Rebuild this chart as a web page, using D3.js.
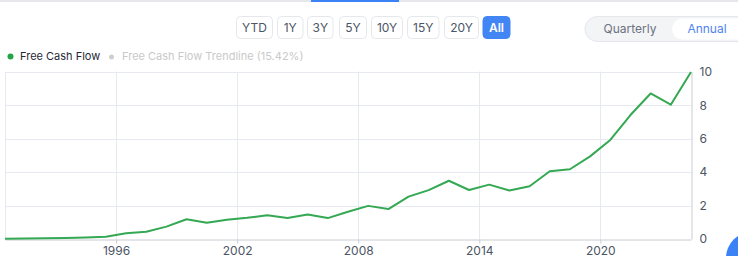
<!DOCTYPE html>
<html><head><meta charset="utf-8">
<script src="https://cdn.jsdelivr.net/npm/d3@7"></script>
<style>
html,body{margin:0;padding:0;background:#fff;overflow:hidden}
svg{display:block;font-family:Inter,"Noto Sans",sans-serif}
</style></head>
<body><svg id="c" width="738" height="256"></svg>
<script>
const years = [1990,1991,1992,1993,1994,1995,1996,1997,1998,1999,2000,2001,2002,2003,2004,2005,2006,2007,2008,2009,2010,2011,2012,2013,2014,2015,2016,2017,2018,2019,2020,2021,2022,2023,2024];
const freeCashFlow = [0.01,0.03,0.05,0.06,0.09,0.14,0.34,0.43,0.74,1.18,0.97,1.15,1.27,1.42,1.25,1.47,1.25,1.63,1.98,1.79,2.53,2.92,3.48,2.93,3.25,2.90,3.15,4.05,4.17,4.94,5.92,7.41,8.70,8.03,9.98];
const yTicks = [0,2,4,6,8,10];
const xTickYears = [1996,2002,2008,2014,2020];
const rangeButtons = ["YTD","1Y","3Y","5Y","10Y","15Y","20Y","All"];
const legendItems = ["Free Cash Flow","Free Cash Flow Trendline (15.42%)"];
const periodOptions = ["Quarterly","Annual"];

const svg = d3.select("#c");
const dates = years.map(y => new Date(y, 5, 30));
const x = d3.scaleTime().domain([dates[0], dates[dates.length-1]]).range([5, 691]);
const y = d3.scaleLinear().domain([0,10]).range([239, 71.7]);

// top progress bar
svg.append("rect").attr("x",0).attr("y",0).attr("width",738).attr("height",2).attr("fill","#e5e7eb");
svg.append("rect").attr("x",311).attr("y",0).attr("width",88).attr("height",2).attr("fill","#3b82f6");

// range buttons
const btnX = [236.5,277.5,307.5,339.5,371.5,407.5,444.5,483];
const btnW = [36,25.5,25.5,27,31,31.5,34,27];
rangeButtons.forEach((t,i)=>{
  const g = svg.append("g");
  const active = t==="All";
  g.append("rect").attr("x",btnX[i]).attr("y",16.5).attr("width",btnW[i]).attr("height",22).attr("rx",4)
    .attr("fill",active?"#4285f4":"#fff").attr("stroke",active?"#4285f4":"#e5e7eb");
  g.append("text").attr("x",btnX[i]+btnW[i]/2).attr("y",32).attr("text-anchor","middle")
    .attr("font-size",12).attr("fill",active?"#fff":"#4b5563").attr("font-weight",active?600:400).text(t);
});

// period toggle
svg.append("rect").attr("x",585).attr("y",16.5).attr("width",170).attr("height",25).attr("rx",12.5)
  .attr("fill","#f3f4f6").attr("stroke","#e5e7eb");
svg.append("rect").attr("x",672).attr("y",18.5).attr("width",90).attr("height",21).attr("rx",10.5).attr("fill","#fff");
svg.append("text").attr("x",630).attr("y",33).attr("text-anchor","middle").attr("font-size",12).attr("fill","#6b7280").text(periodOptions[0]);
svg.append("text").attr("x",707).attr("y",33).attr("text-anchor","middle").attr("font-size",12).attr("fill","#4f83f1").text(periodOptions[1]);

// legend
svg.append("circle").attr("cx",10.5).attr("cy",56.5).attr("r",3).attr("fill","#22a447");
svg.append("text").attr("x",20).attr("y",60).attr("font-size",11).attr("fill","#1f2937").text(legendItems[0]);
svg.append("circle").attr("cx",111.5).attr("cy",57).attr("r",2.5).attr("fill","#cfcfcf");
svg.append("text").attr("x",122).attr("y",60).attr("font-size",11).attr("fill","#c9c9c9").text(legendItems[1]);

// grid
const grid = svg.append("g");
grid.selectAll(".hg").data(yTicks.filter(d=>d>0)).join("line")
  .attr("x1",5).attr("x2",691).attr("y1",d=>Math.round(y(d))+0.5).attr("y2",d=>Math.round(y(d))+0.5)
  .attr("stroke","#e6e9ef");
const xTickDates = xTickYears.map(v=>new Date(v,0,1));
grid.selectAll(".vg").data(xTickDates).join("line")
  .attr("x1",d=>Math.round(x(d))+0.5).attr("x2",d=>Math.round(x(d))+0.5).attr("y1",71.5).attr("y2",239)
  .attr("stroke","#e6e9ef");
grid.append("line").attr("x1",5.5).attr("x2",5.5).attr("y1",71.5).attr("y2",239).attr("stroke","#e6e9ef");

// axes
const xAxis = d3.axisBottom(x).tickValues(xTickDates).tickFormat(d3.timeFormat("%Y")).tickSize(4).tickSizeOuter(0);
const gx = svg.append("g").attr("transform","translate(0,239.5)").call(xAxis);
gx.select(".domain").attr("stroke","#c8ccd4");
gx.selectAll(".tick line").attr("stroke","#c8ccd4");
gx.selectAll("text").attr("font-size",12).attr("fill","#4b5563").attr("font-family","Inter,'Noto Sans',sans-serif")
  .attr("y",15).attr("dy",0);

const yAxis = d3.axisRight(y).tickValues(yTicks).tickSize(0).tickPadding(8);
const gy = svg.append("g").attr("transform","translate(691.5,0)").call(yAxis);
gy.select(".domain").attr("stroke","#c8ccd4");
gy.selectAll("text").attr("font-size",12).attr("fill","#4b5563").attr("font-family","Inter,'Noto Sans',sans-serif");

// line
const line = d3.line().x((d,i)=>x(dates[i])).y(d=>y(d));
svg.append("path").datum(freeCashFlow).attr("d",line).attr("fill","none")
  .attr("stroke","#34a853").attr("stroke-width",2).attr("stroke-linejoin","round");

// floating button
svg.append("circle").attr("cx",752).attr("cy",258).attr("r",26).attr("fill","#3b82f6");
</script></body></html>
